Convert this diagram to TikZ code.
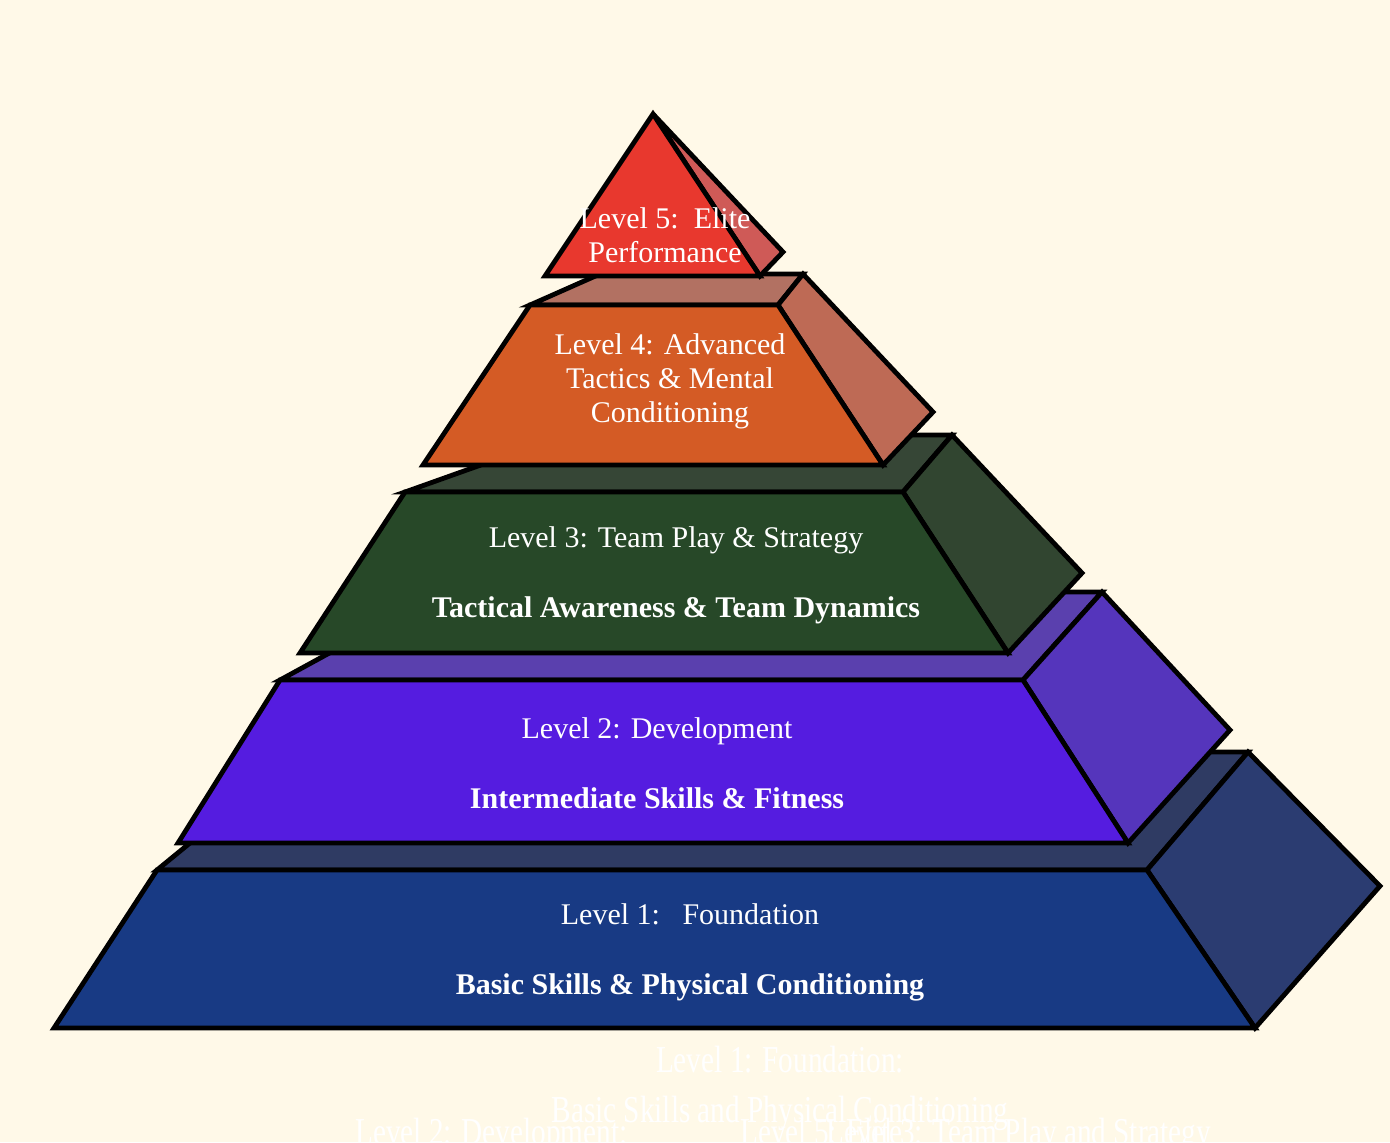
\documentclass[tikz,border=0pt]{standalone}
\usepackage{fontspec}
\setmainfont{Liberation Serif}
\definecolor{bgc}{HTML}{FFF9E8}
\definecolor{aF}{HTML}{183A84}\definecolor{aS}{HTML}{2B3C71}\definecolor{aT}{HTML}{2F3B63}
\definecolor{bF}{HTML}{551CE0}\definecolor{bS}{HTML}{5535BC}\definecolor{bT}{HTML}{5A40AE}
\definecolor{cF}{HTML}{274828}\definecolor{cS}{HTML}{314530}\definecolor{cT}{HTML}{364636}
\definecolor{dF}{HTML}{D45B25}\definecolor{dS}{HTML}{BE6A55}\definecolor{dT}{HTML}{B27162}
\definecolor{eF}{HTML}{E8382E}\definecolor{eS}{HTML}{CF5A57}
\tikzset{
  face/.style={draw=black, line width=2.4pt, line join=miter},
  lbl/.style={text=white, font=\fontsize{15}{17}\selectfont, anchor=base, inner sep=0pt},
  blbl/.style={text=white, font=\fontsize{15}{17}\selectfont\bfseries, anchor=base, inner sep=0pt},
  ghost/.style={text=white, font=\fontsize{19}{22}\selectfont, anchor=base west, inner sep=0pt}
}
\begin{document}
\begin{tikzpicture}[x=0.5pt, y=-0.5pt]
\fill[bgc] (0,0) rectangle (1390,1142);
\useasboundingbox (0,0) rectangle (1390,1142);
\begin{scope}
\clip (0,0) rectangle (1390,1142);
% faint background texts
\node[ghost, anchor=base] (g1) at (780,1072) {\scalebox{0.77}[1]{Level 1: Foundation:}};
\node[ghost, anchor=base] (g2) at (780,1122) {\scalebox{0.77}[1]{Basic Skills and Physical Conditioning}};
\node[ghost] (g3) at (355,1144) {\scalebox{0.77}[1]{Level 2: Development:}};
\node[ghost] (g4) at (740,1144) {\scalebox{0.77}[1]{Level 5: Elite}};
\node[ghost] (g5) at (826,1144) {\scalebox{0.77}[1]{Level 3: Team Play and Strategy}};

% Level 1
\filldraw[face, fill=aT] (157,870) -- (1147,870) -- (1248,752) -- (301,752) -- cycle;
\filldraw[face, fill=aS] (1147,870) -- (1248,752) -- (1380,886) -- (1255,1028) -- cycle;
\filldraw[face, fill=aF] (54,1028) -- (1255,1028) -- (1147,870) -- (157,870) -- cycle;
% Level 2
\filldraw[face, fill=bT] (280,680) -- (1023,680) -- (1102,592) -- (441,592) -- cycle;
\filldraw[face, fill=bS] (1023,680) -- (1102,592) -- (1230,730) -- (1128,843) -- cycle;
\filldraw[face, fill=bF] (178,843) -- (1128,843) -- (1023,680) -- (280,680) -- cycle;
% Level 3
\filldraw[face, fill=cT] (405,492) -- (903,492) -- (952,435) -- (565,435) -- cycle;
\filldraw[face, fill=cS] (903,492) -- (952,435) -- (1082,573) -- (1008,653) -- cycle;
\filldraw[face, fill=cF] (300,653) -- (1008,653) -- (903,492) -- (405,492) -- cycle;
% Level 4
\filldraw[face, fill=dT] (530,305) -- (778,305) -- (803,274) -- (600,274) -- cycle;
\filldraw[face, fill=dS] (778,305) -- (803,274) -- (933,412) -- (883,465) -- cycle;
\filldraw[face, fill=dF] (423,465) -- (883,465) -- (778,305) -- (530,305) -- cycle;
% Level 5
\filldraw[face, fill=eS] (653,114) -- (783,252) -- (760,276) -- cycle;
\filldraw[face, fill=eF] (545,276) -- (760,276) -- (653,114) -- cycle;

% labels
\node[lbl]  (l1a) at (690,924) {Level 1:\ \ \ Foundation};
\node[blbl] (l1b) at (690,994) {Basic Skills \& Physical Conditioning};
\node[lbl]  (l2a) at (657,738) {Level 2: Development};
\node[blbl] (l2b) at (657,808) {Intermediate Skills \& Fitness};
\node[lbl]  (l3a) at (676,547) {Level 3: Team Play \& Strategy};
\node[blbl] (l3b) at (676,617) {Tactical Awareness \& Team Dynamics};
\node[lbl]  (l4a) at (670,354) {Level 4: Advanced};
\node[lbl]  (l4b) at (670,388) {Tactics \& Mental};
\node[lbl]  (l4c) at (670,422) {Conditioning};
\node[lbl]  (l5a) at (665,228) {Level 5:\ \ Elite};
\node[lbl]  (l5b) at (665,262) {Performance};
\end{scope}
\end{tikzpicture}
\end{document}
